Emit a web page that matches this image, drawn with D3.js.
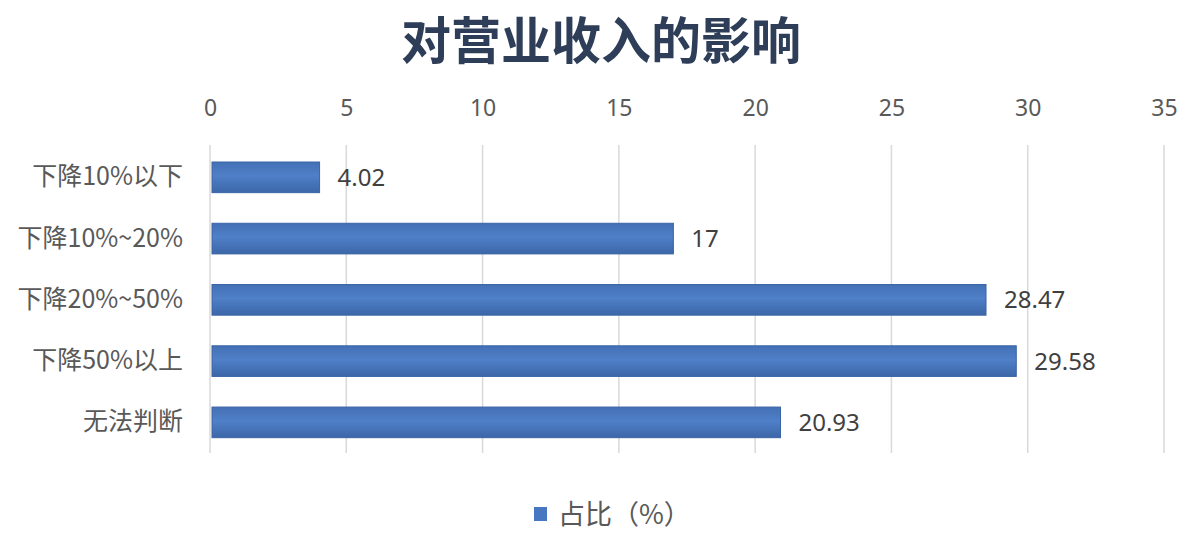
<!DOCTYPE html>
<html lang="zh">
<head>
<meta charset="UTF-8" />
<title>对营业收入的影响</title>
<script src="https://d3js.org/d3.v7.min.js"></script>
<style>
  body { margin: 0; background: #fff; }
  svg { display: block; }
  text { font-family: "Noto Sans CJK SC", "Noto Sans", sans-serif; }
  .grid line { stroke: #d9d9d9; stroke-width: 1.5px; }
</style>
</head>
<body>
<script>
// 数据
const categories = ["下降10%以下", "下降10%~20%", "下降20%~50%", "下降50%以上", "无法判断"];
const values = [4.02, 17, 28.47, 29.58, 20.93];
const xTicks = [0, 5, 10, 15, 20, 25, 30, 35];
const seriesName = "占比（%）";
const chartTitle = "对营业收入的影响";

const width = 1189, height = 533;
const plotLeft = 210, plotRight = 1164, plotTop = 145, plotBottom = 453;

const svg = d3.select("body").append("svg")
  .attr("width", width)
  .attr("height", height);

// 渐变填充
const grad = svg.append("defs").append("linearGradient")
  .attr("id", "barGrad")
  .attr("x1", 0).attr("y1", 0).attr("x2", 0).attr("y2", 1);
grad.append("stop").attr("offset", "0%").attr("stop-color", "#4470b5");
grad.append("stop").attr("offset", "45%").attr("stop-color", "#4f80c8");
grad.append("stop").attr("offset", "100%").attr("stop-color", "#3c66a8");

const x = d3.scaleLinear().domain([0, 35]).range([plotLeft, plotRight]);
const y = d3.scaleBand().domain(categories)
  .range([plotTop + 1.7, plotBottom])
  .paddingInner(0.5)
  .paddingOuter(0.25);

// 标题
svg.append("text")
  .attr("x", 601)
  .attr("y", 59)
  .attr("text-anchor", "middle")
  .style("font-size", "50px")
  .style("font-weight", "bold")
  .style("fill", "#2e3e58")
  .text(chartTitle);

// 网格线
svg.append("g")
  .attr("class", "grid")
  .selectAll("line")
  .data(xTicks)
  .join("line")
  .attr("x1", d => x(d)).attr("x2", d => x(d))
  .attr("y1", plotTop).attr("y2", plotBottom);

// 顶部坐标轴
const xAxis = svg.append("g")
  .attr("transform", `translate(0, 116)`)
  .call(d3.axisTop(x).tickValues(xTicks).tickSize(0).tickPadding(0));
xAxis.select(".domain").remove();
xAxis.selectAll("text")
  .attr("dy", 0)
  .style("font-size", "23px")
  .style("fill", "#595959")
  .style("font-family", "'Noto Sans', sans-serif");

// 分类标签
const yAxis = svg.append("g")
  .attr("transform", `translate(183, 0)`)
  .call(d3.axisLeft(y).tickSize(0).tickPadding(0));
yAxis.select(".domain").remove();
yAxis.selectAll("text")
  .style("font-size", "25px")
  .style("fill", "#595959");

// 条形
svg.append("g")
  .selectAll("rect")
  .data(values)
  .join("rect")
  .attr("x", x(0) + 2)
  .attr("y", (d, i) => y(categories[i]))
  .attr("width", d => x(d) - x(0) - 2)
  .attr("height", y.bandwidth())
  .attr("fill", "url(#barGrad)")
  .attr("stroke", "#3a64a5")
  .attr("stroke-width", 1);

// 数值标签
svg.append("g")
  .selectAll("text")
  .data(values)
  .join("text")
  .attr("x", d => x(d) + 18)
  .attr("y", (d, i) => y(categories[i]) + y.bandwidth() / 2)
  .attr("dy", "0.36em")
  .style("font-size", "24px")
  .style("fill", "#404040")
  .style("font-family", "'Noto Sans', sans-serif")
  .text(d => d);

// 图例
const legend = svg.append("g").attr("transform", "translate(534, 514)");
legend.append("rect")
  .attr("x", 0).attr("y", -7)
  .attr("width", 13).attr("height", 14)
  .attr("fill", "#4677c0");
legend.append("text")
  .attr("x", 24)
  .attr("y", 0)
  .attr("dy", "0.36em")
  .style("font-size", "27px")
  .style("fill", "#595959")
  .text(seriesName);
</script>
</body>
</html>
